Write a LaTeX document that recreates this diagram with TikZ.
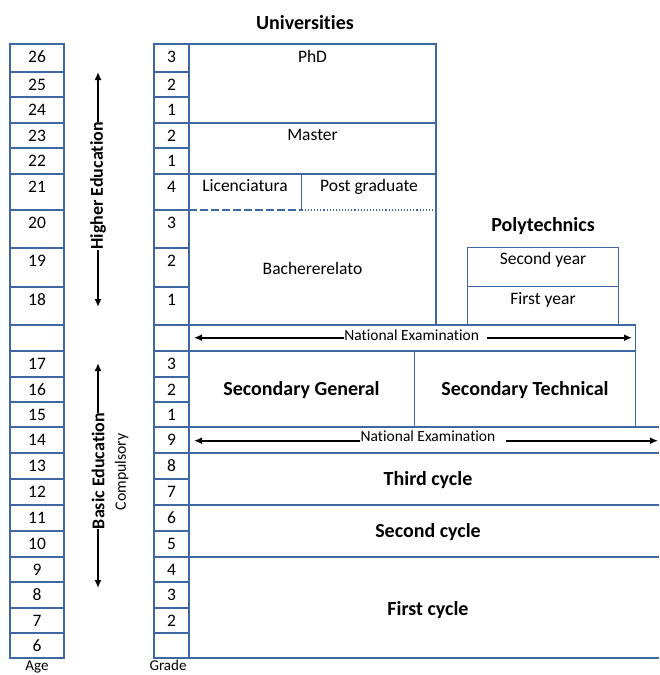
\documentclass[tikz,border=0pt]{standalone}
\usepackage{fontspec}
\setmainfont{Carlito}[Ligatures=NoCommon]
\usetikzlibrary{arrows.meta,positioning}
\definecolor{tableblue}{RGB}{62,104,163}

\tikzset{
  tableline/.style={draw=tableblue, line width=1.1pt},
  celltext/.style={anchor=base, inner sep=0pt, font=\fontsize{17.5}{20}\selectfont},
  boldtext/.style={anchor=base, inner sep=0pt, font=\fontsize{20}{24}\selectfont\bfseries},
  examtext/.style={anchor=base, inner sep=0pt, font=\fontsize{15.5}{18}\selectfont},
  smalltext/.style={anchor=base, inner sep=0pt, font=\fontsize{15}{18}\selectfont},
  sidetext/.style={rotate=90, inner sep=0pt, font=\fontsize{18}{22}\selectfont\bfseries},
  levelarrow/.style={-{Latex[length=8pt,width=7pt]}, line width=1.6pt},
}

\begin{document}
\begin{tikzpicture}[x=1pt,y=-1pt]
  \useasboundingbox (0,0) rectangle (659,675);

  % age and grade columns
  \foreach \top/\bot/\age/\grade in {44/72/26/3, 72/97/25/2, 97/123/24/1,
      123/148/23/2, 148/174/22/1, 174/210/21/4, 210/248/20/3, 248/287/19/2,
      287/325/18/1, 325/351/{}/{}, 351/377/17/3, 377/402/16/2, 402/427/15/1,
      427/453/14/9, 453/479/13/8, 479/505/12/7, 505/531/11/6, 531/557/10/5,
      557/582/9/4, 582/608/8/3, 608/633/7/2, 633/658/6/{}} {
    \draw[tableline] (10,\top) rectangle (64,\bot);
    \draw[tableline] (154,\top) rectangle (189,\bot);
    \node[celltext] at (37,\top+18) {\age};
    \node[celltext] at (171.5,\top+18) {\grade};
  }
  \node[smalltext] (agelabel) at (37,670) {Age};
  \node[smalltext] (gradelabel) at (168,670) {Grade};

  % universities
  \draw[tableline] (189,44) rectangle (436,325);
  \draw[tableline] (189,123) -- (436,123);
  \draw[tableline] (189,174) -- (436,174);
  \draw[tableline] (301.7,174) -- (301.7,210);
  \draw[tableline, line width=1.6pt, dash pattern=on 8pt off 3pt] (189,210) -- (301.7,210);
  \draw[tableline, dotted] (301.7,210) -- (436,210);
  \node[boldtext] (univ) at (305,29) {Universities};
  \node[celltext] (phd) at (312.5,62) {PhD};
  \node[celltext] (master) at (312.5,140) {Master};
  \node[celltext] (lic) at (245,191.5) {Licenciatura};
  \node[celltext] (postgrad) at (369,191.5) {Post graduate};
  \node[celltext] (bach) at (312.5,274) {Bachererelato};

  % polytechnics
  \draw[tableline] (467.7,247.7) rectangle (618.3,325);
  \draw[tableline] (467.7,286.7) -- (618.3,286.7);
  \node[boldtext] (poly) at (543,231.5) {Polytechnics};
  \node[celltext] (second) at (543,264.5) {Second year};
  \node[celltext] (first) at (543,304.5) {First year};

  % national examination after secondary
  \draw[tableline] (189,325) rectangle (635.7,351);
  \node[examtext] (examA) at (411.7,340) {National Examination};
  \coordinate (examAleft) at (194,337.7);
  \coordinate (examAright) at (632,337.7);
  \draw[levelarrow] (examA.west |- examAleft) -- (examAleft);
  \draw[levelarrow] ([xshift=8pt]examA.east |- examAright) -- (examAright);

  % secondary
  \draw[tableline] (189,351) rectangle (635.7,427);
  \draw[tableline] (414.3,351) -- (414.3,427);
  \node[boldtext] (secgen) at (301.5,395.5) {Secondary General};
  \node[boldtext] (sectech) at (525,395.5) {Secondary Technical};

  % basic education
  \foreach \y in {427,453,505,557,658}
    \draw[tableline] (189,\y) -- (659,\y);
  \node[examtext] (examB) at (428,441.5) {National Examination};
  \coordinate (examBleft) at (194,440.7);
  \coordinate (examBright) at (658,440.7);
  \draw[levelarrow] (examB.west |- examBleft) -- (examBleft);
  \draw[levelarrow] ([xshift=10pt]examB.east |- examBright) -- (examBright);
  \node[boldtext] (third) at (428,485.7) {Third cycle};
  \node[boldtext] (secondc) at (428,537.7) {Second cycle};
  \node[boldtext] (firstc) at (428,615.3) {First cycle};

  % levels
  \node[sidetext] (higher) at (98,186) {Higher Education};
  \coordinate (highertop) at (98,72);
  \coordinate (higherbot) at (98,307);
  \draw[levelarrow] (higher.east) -- (highertop);
  \draw[levelarrow] (higher.west) -- (higherbot);
  \node[sidetext] (basic) at (98,471) {Basic Education};
  \coordinate (basictop) at (98,363);
  \coordinate (basicbot) at (98,588);
  \draw[levelarrow] (basic.east) -- (basictop);
  \draw[levelarrow] (basic.west) -- (basicbot);
  \node[rotate=90, inner sep=0pt, font=\fontsize{15.8}{18}\selectfont] (compulsory) at (121.7,471.7) {Compulsory};
\end{tikzpicture}
\end{document}
